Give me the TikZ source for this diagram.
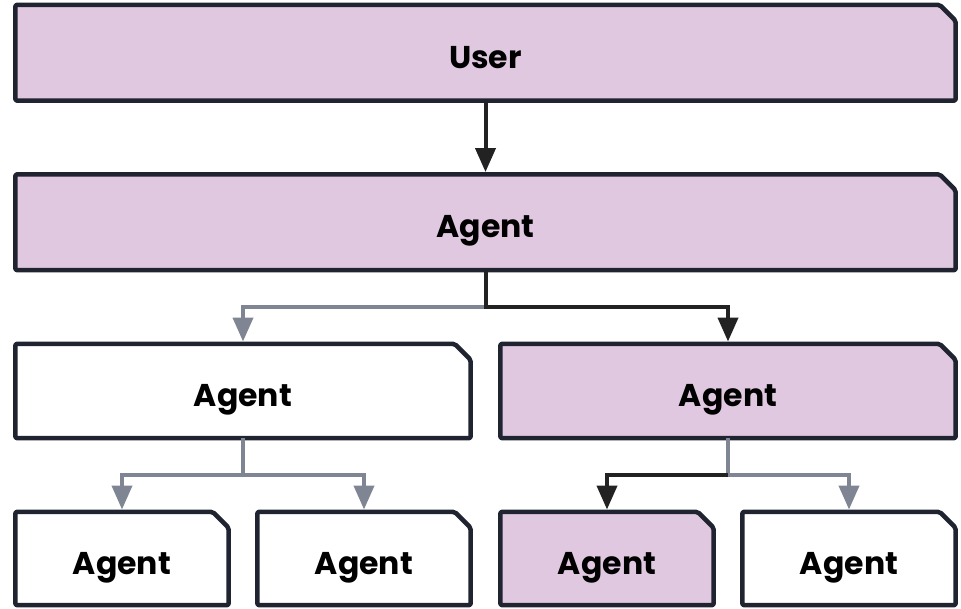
\documentclass[tikz,border=0pt]{standalone}
\usepackage{fontspec}
\setmainfont{Poppins}
\usetikzlibrary{arrows.meta}
\pgfdeclarelayer{bg}
\pgfsetlayers{bg,main}
\definecolor{lilac}{HTML}{E1C8E1}
\definecolor{frame}{HTML}{1F2430}
\definecolor{darkarrow}{HTML}{222222}
\definecolor{greyarrow}{HTML}{808594}

\tikzset{
  agentbox/.style={inner sep=0pt, font=\bfseries\fontsize{31.5}{31.5}\selectfont,
    text height=31pt, text depth=0pt, align=center},
  outline/.style={draw=frame, line width=4.5pt, rounded corners=2pt, line join=round},
  link/.style={line width=4pt, -{Triangle[length=24pt,width=20pt]}, shorten >=2.25pt},
  active/.style={link, draw=darkarrow},
  idle/.style={link, draw=greyarrow},
}

% outline with a clipped top-right corner, drawn behind the node text
\newcommand\cutframe[2]{%
  \begin{pgfonlayer}{bg}
    \path[outline, fill=#2] (#1.south west) -- (#1.north west)
      -- ([xshift=-16pt]#1.north east) -- ([yshift=-16pt]#1.north east)
      -- (#1.south east) -- cycle;
  \end{pgfonlayer}}

\begin{document}
\begin{tikzpicture}[x=1pt,y=-1pt]
  \useasboundingbox (0,0) rectangle (961,609);

  % boxes
  \node[agentbox, minimum width=940pt, minimum height=95.5pt] (user) at (485.5,52.75) {User};
  \node[agentbox, minimum width=940pt, minimum height=95.5pt] (root) at (485.5,222.25) {Agent};
  \node[agentbox, minimum width=455pt, minimum height=94pt] (midL) at (243,391) {Agent};
  \node[agentbox, minimum width=455pt, minimum height=94pt] (midR) at (728,391) {Agent};
  \node[agentbox, minimum width=213pt, minimum height=93pt] (leafA) at (122,558.5) {Agent};
  \node[agentbox, minimum width=213pt, minimum height=93pt] (leafB) at (364,558.5) {Agent};
  \node[agentbox, minimum width=213pt, minimum height=93pt] (leafC) at (607,558.5) {Agent};
  \node[agentbox, minimum width=213pt, minimum height=93pt] (leafD) at (849,558.5) {Agent};

  \cutframe{user}{lilac}
  \cutframe{root}{lilac}
  \cutframe{midL}{white}
  \cutframe{midR}{lilac}
  \cutframe{leafA}{white}
  \cutframe{leafB}{white}
  \cutframe{leafC}{lilac}
  \cutframe{leafD}{white}

  % branch points
  \coordinate (j0) at (485.5,307);
  \coordinate (jL) at (243,475);
  \coordinate (jR) at (728,475);

  % connectors
  \draw[active] (user) -- (root);

  \draw[idle] (j0) -| (midL.north);
  \draw[active] (root.south) -- (j0) -| (midR.north);

  \draw[idle] (midL.south) -- (jL) -| (leafA.north);
  \draw[idle] (jL) -| (leafB.north);

  \draw[idle] (midR.south) -- (jR) -| (leafD.north);
  \draw[active] (jR) -| (leafC.north);
\end{tikzpicture}
\end{document}
